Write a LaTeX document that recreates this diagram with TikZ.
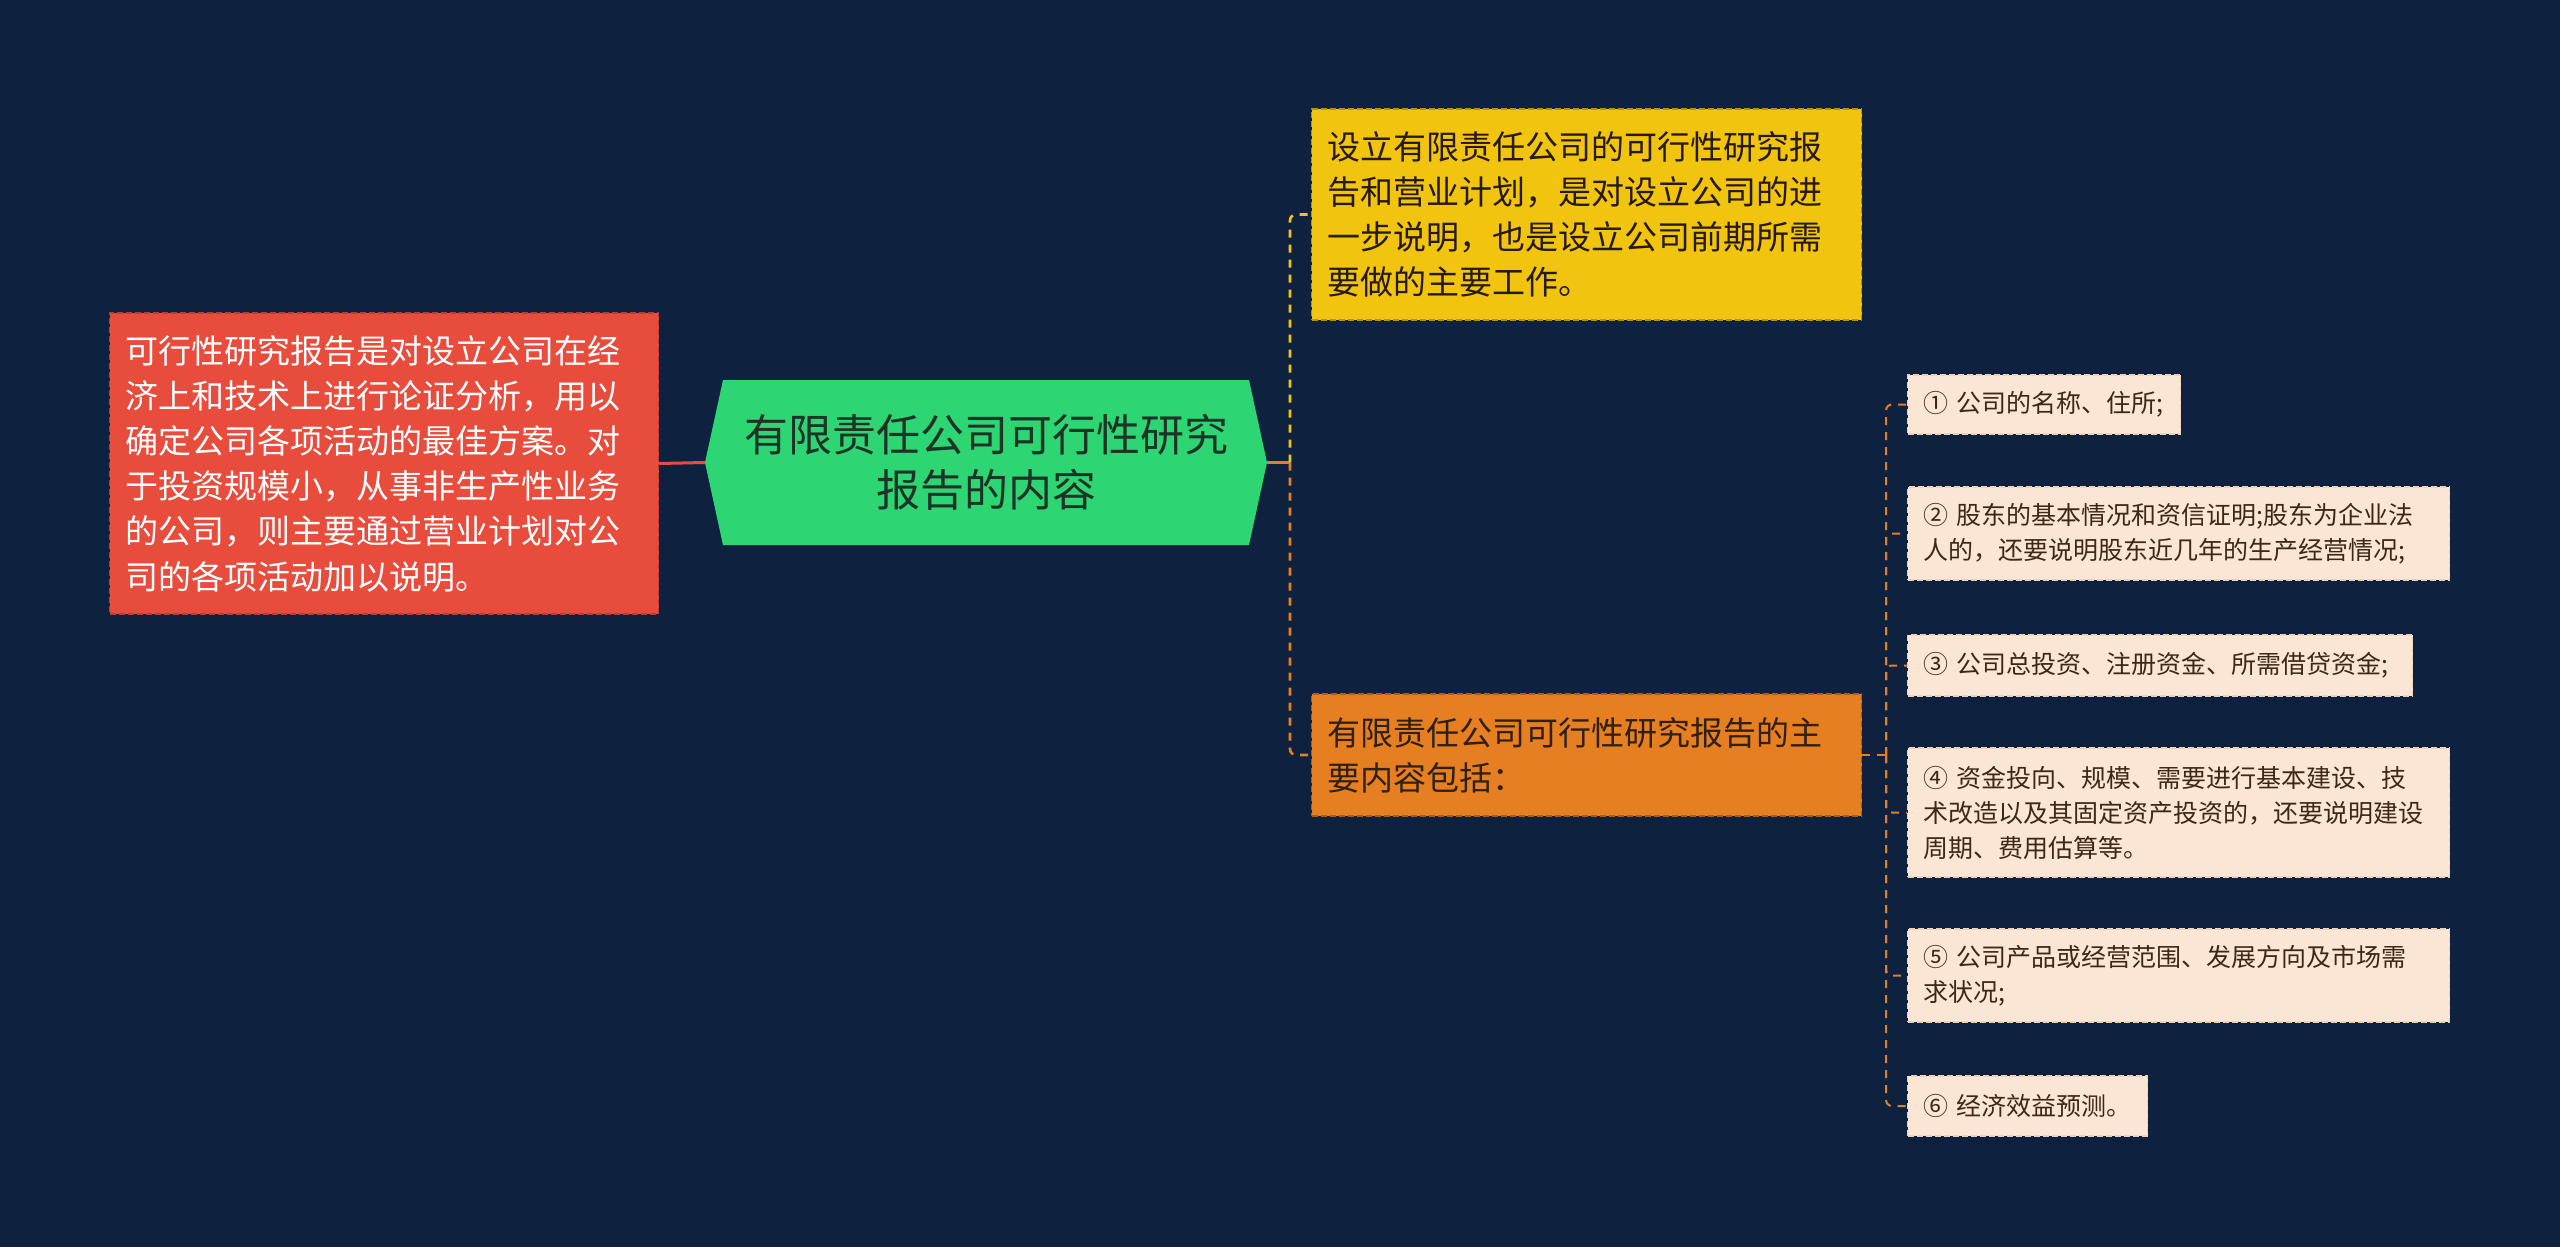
\documentclass[tikz,border=0pt]{standalone}
\usepackage{fontspec}
\setmainfont{Noto Sans CJK SC}
\usepackage{color}

\definecolor{bgnavy}{HTML}{0E2240}
\definecolor{leafred}{HTML}{E74C3C}
\definecolor{rootgreen}{HTML}{2ED573}
\definecolor{leafyellow}{HTML}{F1C40F}
\definecolor{leaforange}{HTML}{E67E22}
\definecolor{itempeach}{HTML}{FBE6D5}
\definecolor{itemtext}{HTML}{3E2716}
\definecolor{roottext}{HTML}{1C3326}

\begin{document}
\begin{tikzpicture}[x=0.5pt,y=-0.5pt,
    leafbox/.style={draw,dashed,dash pattern=on 3pt off 1.5pt,line width=0.6pt,
        inner xsep=8pt,inner ysep=0pt,align=left,anchor=west},
    bigtext/.style={font=\fontsize{16.5}{22.6}\selectfont},
    smalltext/.style={font=\fontsize{12.5}{17.5}\selectfont},
    itembox/.style={leafbox,smalltext,fill=itempeach,draw=itempeach!80!brown,text=itemtext},
    mainline/.style={line width=1.5pt},
    trunkline/.style={line width=1.3pt,dash pattern=on 4pt off 3.5pt,rounded corners=3pt},
    subline/.style={line width=1pt,leaforange,dash pattern=on 4pt off 3.5pt,rounded corners=3pt}]
        \fill[bgnavy] (0,0) rectangle (2560,1247);
        \useasboundingbox (0,0) rectangle (2560,1247);

        \coordinate (c0) at (986,462.5);
        \coordinate (rootW) at (705,462.5);
        \coordinate (rootE) at (1267,462.5);
        \coordinate (l1) at (109,463.5);
        \coordinate (r1) at (1311,214.5);
        \coordinate (r2) at (1311,755);
        \coordinate (hubR) at (1290,462.5);
        \coordinate (hubS) at (1886,755);

        \coordinate (s1) at (1907,404.5);
        \coordinate (s2) at (1907,533.5);
        \coordinate (s3) at (1907,665.5);
        \coordinate (s4) at (1907,812.5);
        \coordinate (s5) at (1907,975.5);
        \coordinate (s6) at (1907,1106);

        \fill[rootgreen] (rootW) -- (723,380) -- (1249,380) -- (rootE) -- (1249,545) -- (723,545) -- cycle;
        \node[align=center,text=roottext,font=\fontsize{22}{27.7}\selectfont] (root) at (c0) {有限责任公司可行性研究\\报告的内容};

        \node[leafbox,bigtext,fill=leafred,draw=leafred!80!black,text=white,text width=258.5pt,minimum height=150.5pt] (left) at (l1)
            {可行性研究报告是对设立公司在经\\济上和技术上进行论证分析，用以\\确定公司各项活动的最佳方案。对\\于投资规模小，从事非生产性业务\\的公司，则主要通过营业计划对公\\司的各项活动加以说明。};
        \node[leafbox,bigtext,fill=leafyellow,draw=leafyellow!75!black,text=black!80!brown,text width=259pt,minimum height=105.5pt] (yel) at (r1)
            {设立有限责任公司的可行性研究报\\告和营业计划，是对设立公司的进\\一步说明，也是设立公司前期所需\\要做的主要工作。};
        \node[leafbox,bigtext,fill=leaforange,draw=leaforange!75!black,text=black!75!brown,text width=259pt,minimum height=61pt] (ora) at (r2)
            {有限责任公司可行性研究报告的主\\要内容包括：};

        \node[itembox,text width=120.5pt,minimum height=29.5pt] (i1) at (s1) {①~公司的名称、住所;};
        \node[itembox,text width=255pt,minimum height=46.5pt] (i2) at (s2) {②~股东的基本情况和资信证明;股东为企业法\\人的，还要说明股东近几年的生产经营情况;};
        \node[itembox,text width=236.5pt,minimum height=30.5pt] (i3) at (s3) {③~公司总投资、注册资金、所需借贷资金;};
        \node[itembox,text width=255pt,minimum height=64.5pt] (i4) at (s4) {④~资金投向、规模、需要进行基本建设、技\\术改造以及其固定资产投资的，还要说明建设\\周期、费用估算等。};
        \node[itembox,text width=255pt,minimum height=46.5pt] (i5) at (s5) {⑤~公司产品或经营范围、发展方向及市场需\\求状况;};
        \node[itembox,text width=104pt,minimum height=30pt] (i6) at (s6) {⑥~经济效益预测。};

        \draw[mainline,leafred] (left.east) -- (rootW);
        \draw[mainline,leaforange] (rootE) -- (hubR);
        \draw[trunkline,leafyellow] (hubR) |- (yel.west);
        \draw[trunkline,leaforange] (hubR) |- (ora.west);
        \draw[subline] (ora.east) -- (hubS);
        \foreach \i in {1,...,6}
            \draw[subline] (hubS) |- (i\i.west);
\end{tikzpicture}
\end{document}
